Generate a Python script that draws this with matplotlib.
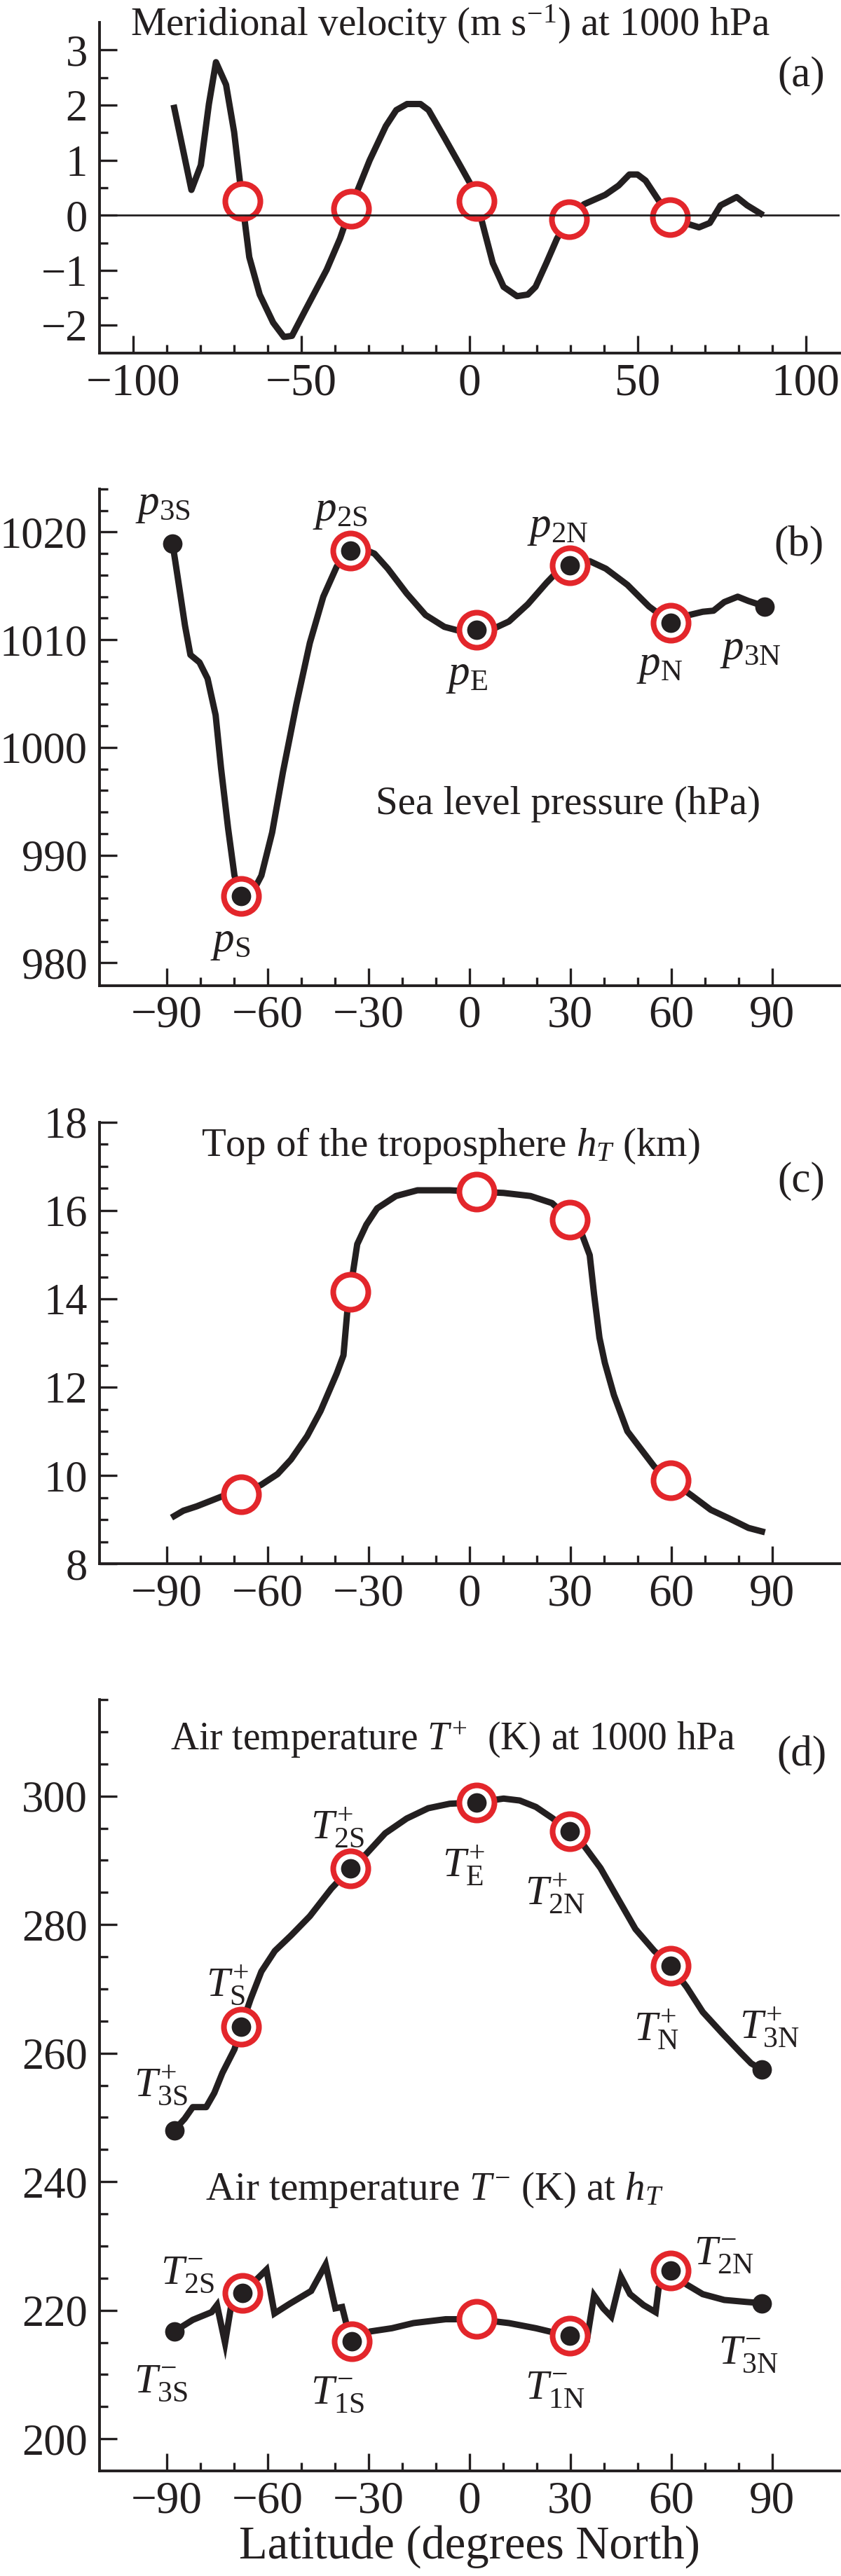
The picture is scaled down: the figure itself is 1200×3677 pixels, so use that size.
import numpy as np
import matplotlib
matplotlib.use('Agg')
import matplotlib.pyplot as plt
from matplotlib.ticker import FixedLocator

plt.rcParams['font.family'] = ['Liberation Serif', 'DejaVu Serif']
plt.rcParams['mathtext.fontset'] = 'custom'
plt.rcParams['mathtext.rm'] = 'Liberation Serif'
plt.rcParams['mathtext.it'] = 'Liberation Serif:italic'
plt.rcParams['axes.unicode_minus'] = True

INK = '#231f20'
RED = '#e3262b'

# (a) meridional velocity at 1000 hPa
lat_v = [-87.7, -82.6, -79.8, -77.4, -75.3, -72.3, -69.9, -67.5, -65.4, -62.3, -58.3, -55.1, -52.7,
         -48.7, -42.4, -38.4, -35.2, -29.6, -24.8, -21.7, -18.5, -14.5, -12.1, -7.3, -2.5, 0.6, 2.2,
         4.6, 7.0, 10.2, 14.2, 17.4, 19.7, 22.9, 26.1, 29.6, 34.1, 40.4, 44.4, 47.6, 50.0, 52.4, 56.4,
         59.6, 65.1, 68.3, 71.5, 74.7, 79.5, 82.6, 86.6]
vel = [1.95, 0.46, 0.91, 2.02, 2.78, 2.37, 1.51, 0.26, -0.76, -1.44, -1.95, -2.21, -2.19,
       -1.72, -0.99, -0.42, 0.15, 1.0, 1.62, 1.91, 2.02, 2.02, 1.91, 1.40, 0.88, 0.54, 0.26,
       -0.31, -0.87, -1.30, -1.47, -1.44, -1.30, -0.87, -0.42, -0.07, 0.20, 0.37, 0.54, 0.74, 0.74, 0.63, 0.26,
       -0.05, -0.16, -0.22, -0.14, 0.18, 0.33, 0.18, 0.03]
ring_lat_a = [-67.5, -35.2, 2.2, 29.6, 59.6]
ring_v = [0.26, 0.12, 0.26, -0.07, -0.04]

# (b) sea level pressure
lat_p = [-88.2, -87.4, -85.8, -84.5, -82.9, -80.2, -77.8, -75.4, -73.8, -71.7, -69.8, -67.8, -65.0,
         -61.8, -58.6, -55.4, -51.4, -47.4, -43.4, -39.4, -35.4, -31.4, -28.2, -24.2, -18.6, -13.0,
         -7.4, -2.6, 2.2, 7.0, 11.8, 17.4, 23.0, 27.0, 29.8, 35.8, 40.6, 47.0, 53.4, 59.8, 65.4,
         69.4, 72.6, 75.8, 79.8, 83.0, 87.8]
slp = [1018.9, 1017.3, 1014.0, 1011.3, 1008.6, 1007.9, 1006.4, 1003.0, 998.1, 992.5, 988.1, 986.2, 986.2,
       988.1, 992.1, 997.7, 1004.0, 1009.7, 1014.0, 1016.8, 1018.3, 1018.4, 1018.0, 1016.6, 1014.3, 1012.3,
       1011.2, 1010.8, 1010.9, 1011.0, 1011.7, 1013.3, 1015.3, 1016.6, 1016.9, 1017.3, 1016.6, 1015.1, 1013.1, 1011.6, 1012.3,
       1012.6, 1012.7, 1013.5, 1014.0, 1013.6, 1013.1]
ring_lat_b = [-67.8, -35.4, 2.2, 29.8, 59.8]
ring_p = [986.2, 1018.3, 1010.9, 1016.9, 1011.6]
end_lat_b = [-88.2, 87.8]
end_p = [1018.9, 1013.1]
p_names = [r'$p_{\mathrm{3S}}$', r'$p_{\mathrm{2S}}$', r'$p_{\mathrm{2N}}$', r'$p_{\mathrm{E}}$',
           r'$p_{\mathrm{N}}$', r'$p_{\mathrm{3N}}$', r'$p_{\mathrm{S}}$']
p_name_xy = [(-91.0, 1022.5), (-38.3, 1021.9), (26.3, 1020.4), (-0.8, 1006.7),
             (56.5, 1007.6), (83.5, 1009.0), (-71.0, 981.9)]

# (c) top of the troposphere
lat_h = [-87.7, -85.0, -81.0, -77.0, -73.0, -67.8, -61.8, -57.0, -53.0, -48.2, -44.2, -39.4, -37.4,
         -36.2, -35.4, -34.6, -33.3, -30.6, -27.4, -21.8, -15.4, -5.8, 2.2, 10.2, 18.2, 24.6, 29.8,
         33.4, 35.8, 37.1, 38.7, 40.3, 43.0, 47.0, 50.2, 55.0, 59.8, 66.2, 71.8, 77.4, 83.0, 87.0]
h_top = [9.08, 9.20, 9.30, 9.42, 9.54, 9.57, 9.79, 10.03, 10.36, 10.89, 11.46, 12.31, 12.72,
         13.77, 14.16, 14.59, 15.24, 15.68, 16.05, 16.33, 16.46, 16.46, 16.43, 16.40, 16.33, 16.17, 15.80,
         15.48, 14.99, 14.10, 13.12, 12.55, 11.82, 11.00, 10.68, 10.20, 9.89, 9.54, 9.22, 9.02, 8.81, 8.73]
ring_lat_c = [-67.8, -35.4, 2.2, 29.8, 59.8]
ring_h = [9.57, 14.16, 16.43, 15.80, 9.89]

# (d) air temperature, surface (T+) and top of troposphere (T-)
lat_tp = [-87.7, -84.6, -82.2, -78.2, -75.8, -73.4, -69.8, -67.8, -65.0, -61.8, -57.8, -53.0, -47.4,
          -41.0, -35.4, -30.6, -25.0, -18.6, -12.2, -5.8, 2.2, 10.2, 15.0, 19.8, 24.6, 29.8, 34.2,
          39.0, 43.8, 49.4, 55.0, 59.8, 64.6, 69.4, 75.0, 80.6, 83.8, 87.0]
t_plus = [248.0, 249.8, 251.6, 251.6, 253.8, 256.9, 260.6, 264.1, 268.4, 272.7, 275.9, 278.3, 281.3,
          285.6, 288.7, 291.0, 294.2, 296.5, 298.1, 298.8, 299.0, 299.6, 299.3, 298.3, 296.6, 294.5, 292.2,
          288.8, 284.4, 279.3, 275.9, 273.6, 270.3, 266.4, 263.2, 260.1, 258.4, 257.4]
lat_tm = [-87.7, -82.2, -76.6, -75.0, -72.6, -70.6, -67.5, -63.8, -60.3, -57.9, -53.4, -47.0, -42.7,
          -39.8, -37.8, -36.6, -35.0, -29.4, -23.0, -16.6, -7.0, 2.2, 11.8, 19.8, 26.2, 29.8, 35.0,
          37.1, 39.8, 42.2, 45.1, 47.8, 51.8, 55.4, 56.3, 59.8, 64.6, 69.4, 75.8, 82.2, 87.0]
t_minus = [216.7, 218.5, 219.7, 220.8, 214.9, 221.3, 222.7, 224.5, 226.3, 219.5, 221.0, 223.0, 227.1,
           220.3, 220.5, 218.0, 215.2, 216.7, 217.2, 218.0, 218.6, 218.6, 218.0, 217.2, 216.4, 216.0, 215.5,
           222.3, 220.3, 219.0, 225.2, 222.5, 220.8, 219.7, 223.5, 226.2, 224.0, 222.5, 221.6, 221.3, 221.1]
ring_lat_d = [-67.8, -35.4, 2.2, 29.8, 59.8, -67.5, -35.0, 29.8, 59.8]
ring_t = [264.1, 288.7, 299.0, 294.5, 273.6, 222.7, 215.2, 216.0, 226.2]
open_lat_d = [2.2]
open_t = [218.6]
end_lat_d = [-87.7, 87.0, -87.7, 87.0]
end_t = [248.0, 257.4, 216.7, 221.1]
t_names = [r'$T^{+}_{\mathrm{2S}}$', r'$T^{+}_{\mathrm{E}}$', r'$T^{+}_{\mathrm{2N}}$', r'$T^{+}_{\mathrm{S}}$',
           r'$T^{+}_{\mathrm{N}}$', r'$T^{+}_{\mathrm{3N}}$', r'$T^{+}_{\mathrm{3S}}$',
           r'$T^{-}_{\mathrm{2S}}$', r'$T^{-}_{\mathrm{2N}}$', r'$T^{-}_{\mathrm{3S}}$', r'$T^{-}_{\mathrm{1S}}$',
           r'$T^{-}_{\mathrm{1N}}$', r'$T^{-}_{\mathrm{3N}}$']
t_name_xy = [(-39.2, 295.1), (-1.7, 289.2), (25.4, 284.9), (-71.9, 270.6), (55.6, 263.7), (89.2, 264.0),
             (-91.7, 255.0), (-83.75, 225.5), (75.6, 228.5), (-91.7, 208.6), (-39.2, 206.9),
             (25.4, 207.6), (82.9, 213.1)]

LW = 6.5
RING_MS, RING_MEW = 36, 5.8
DOT_MS = 20
TITLE_FS = 41
NAME_FS = 44


def style(ax, ylim, ymaj, ymin, xmaj, xmin):
    ax.set_xlim(-110, 110)
    ax.set_ylim(*ylim)
    for s in ['top', 'right']:
        ax.spines[s].set_visible(False)
    for s in ['left', 'bottom']:
        ax.spines[s].set_linewidth(2.8)
        ax.spines[s].set_color(INK)
    ax.xaxis.set_major_locator(FixedLocator(xmaj))
    ax.xaxis.set_minor_locator(FixedLocator(xmin))
    ax.yaxis.set_major_locator(FixedLocator(ymaj))
    ax.yaxis.set_minor_locator(FixedLocator(ymin))
    ax.tick_params(which='both', direction='in', width=2.4, color=INK, labelcolor=INK)
    ax.tick_params(which='major', length=18)
    ax.tick_params(which='minor', length=8.5)
    ax.tick_params(axis='x', pad=10, labelsize=47)
    ax.tick_params(axis='y', pad=12, labelsize=45)


def rings(ax, x, y, face='white', dots=True):
    ax.plot(x, y, 'o', ms=RING_MS, mfc=face, mec=RED, mew=RING_MEW, zorder=4)
    if dots:
        ax.plot(x, y, 'o', ms=DOT_MS, mfc=INK, mec='none', zorder=5)


fig = plt.figure(figsize=(12, 36.77), dpi=100)
L, W = 0.118, 0.88
ax_a = fig.add_axes([L, 0.8630, W, 0.12826])
ax_b = fig.add_axes([L, 0.61746, W, 0.19271])
ax_c = fig.add_axes([L, 0.39298, W, 0.17134])
ax_d = fig.add_axes([L, 0.04079, W, 0.29943])

x90 = list(range(-90, 91, 30))
x90m = [v for v in range(-90, 91, 10) if v % 30]

# (a)
style(ax_a, (-2.5, 3.5), [-2, -1, 0, 1, 2, 3], [-1.5, -0.5, 0.5, 1.5, 2.5],
      [-100, -50, 0, 50, 100], [v for v in range(-100, 101, 10) if v % 50])
ax_a.plot(lat_v, vel, color=INK, lw=LW, solid_joinstyle='round', zorder=3)
rings(ax_a, ring_lat_a, ring_v, dots=False)
ax_a.axhline(0, color=INK, lw=2.0, zorder=6)
ax_a.text(-5.6, 3.47, r'Meridional velocity (m s$^{-1}$) at 1000 hPa', fontsize=TITLE_FS,
          ha='center', va='center', color=INK)
ax_a.text(98.75, 2.53, '(a)', fontsize=44, ha='center', va='center', color=INK)

# (b)
style(ax_b, (977.9, 1024), [980, 990, 1000, 1010, 1020],
      [v for v in range(982, 1025, 2) if v % 10], x90, x90m)
ax_b.plot(lat_p, slp, color=INK, lw=LW, solid_joinstyle='round', zorder=3)
rings(ax_b, ring_lat_b, ring_p)
ax_b.plot(end_lat_b, end_p, 'o', ms=DOT_MS, mfc=INK, mec='none', zorder=5)
for name, (x, y) in zip(p_names, p_name_xy):
    ax_b.text(x, y, name, fontsize=NAME_FS, ha='center', va='center', color=INK)
ax_b.text(29.4, 994.7, 'Sea level pressure (hPa)', fontsize=TITLE_FS, ha='center', va='center', color=INK)
ax_b.text(97.9, 1018.8, '(b)', fontsize=44, ha='center', va='center', color=INK)

# (c)
style(ax_c, (8, 18), [8, 10, 12, 14, 16, 18], [v / 2 for v in range(17, 36) if v % 4],
      x90, x90m)
ax_c.plot(lat_h, h_top, color=INK, lw=LW, solid_joinstyle='round', zorder=3)
rings(ax_c, ring_lat_c, ring_h, dots=False)
ax_c.text(-5.6, 17.47, r'Top of the troposphere $h_T$ (km)', fontsize=TITLE_FS,
          ha='center', va='center', color=INK)
ax_c.text(98.75, 16.66, '(c)', fontsize=44, ha='center', va='center', color=INK)

# (d)
style(ax_d, (195, 315), [200, 220, 240, 260, 280, 300],
      [v for v in range(205, 316, 5) if v % 20], x90, x90m)
ax_d.plot(lat_tp, t_plus, color=INK, lw=LW, solid_joinstyle='round', zorder=3)
ax_d.plot(lat_tm, t_minus, color=INK, lw=LW, solid_joinstyle='miter', zorder=3)
rings(ax_d, ring_lat_d, ring_t)
rings(ax_d, open_lat_d, open_t, dots=False)
ax_d.plot(end_lat_d, end_t, 'o', ms=DOT_MS, mfc=INK, mec='none', zorder=5)
for name, (x, y) in zip(t_names, t_name_xy):
    ax_d.text(x, y, name, fontsize=NAME_FS - 1, ha='center', va='center', color=INK)
ax_d.text(-4.8, 308.8, r'Air temperature $T^{+}$  (K) at 1000 hPa', fontsize=40,
          ha='center', va='center', color=INK)
ax_d.text(-10.4, 238.7, r'Air temperature $T^{-}$ (K) at $h_T$', fontsize=41,
          ha='center', va='center', color=INK)
ax_d.text(98.75, 306.4, '(d)', fontsize=44, ha='center', va='center', color=INK)
ax_d.set_xlabel('Latitude (degrees North)', fontsize=48, color=INK)
ax_d.xaxis.set_label_coords(0.5, -0.07)

fig.savefig('out.png', dpi=100, facecolor='white')
